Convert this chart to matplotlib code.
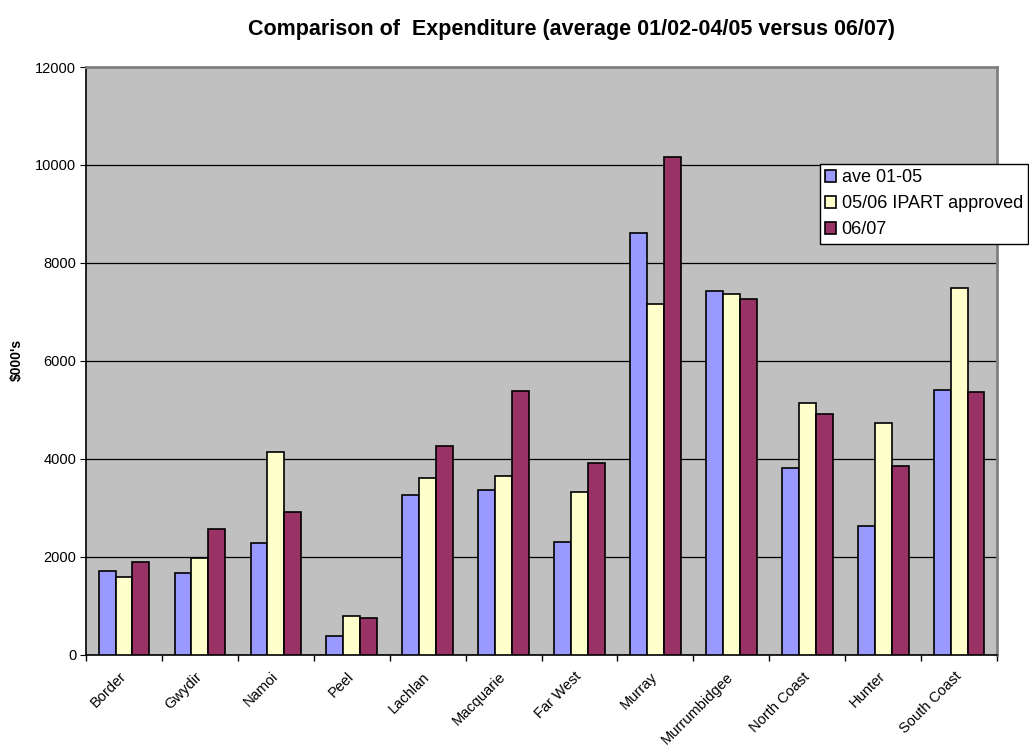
import numpy as np
import matplotlib.pyplot as plt
from matplotlib.ticker import FixedLocator

plt.rcParams['font.family'] = ['Liberation Sans', 'DejaVu Sans']

regions = ["Border", "Gwydir", "Namoi", "Peel", "Lachlan", "Macquarie", "Far West",
           "Murray", "Murrumbidgee", "North Coast", "Hunter", "South Coast"]
ave_01_05 = [1717, 1670, 2280, 390, 3265, 3360, 2306, 8610, 7435, 3810, 2640, 5414]
ipart_0506 = [1582, 1986, 4143, 794, 3618, 3653, 3327, 7169, 7361, 5136, 4728, 7490]
exp_0607 = [1899, 2571, 2918, 747, 4271, 5388, 3912, 10163, 7259, 4912, 3857, 5361]

series = [("ave 01-05", ave_01_05, "#9999FF"),
          ("05/06 IPART approved", ipart_0506, "#FFFFCC"),
          ("06/07", exp_0607, "#993366")]

fig = plt.figure(figsize=(10.29, 7.47), dpi=100)
ax = fig.add_axes([0.0836, 0.1232, 0.8854, 0.7871])
ax.set_facecolor("#C0C0C0")

x = np.arange(len(regions))
w = 1 / 4.5
for i, (name, vals, col) in enumerate(series):
    ax.bar(x + (i - 1) * w, vals, width=w, color=col, edgecolor="black",
           linewidth=1.2, label=name, zorder=3)

ax.set_xlim(-0.5, len(regions) - 0.5)
ax.set_ylim(0, 12000)
ax.set_yticks(range(0, 12001, 2000))
ax.yaxis.grid(True, color="black", linewidth=0.9, zorder=1)
ax.set_axisbelow(True)

ax.set_xticks(x)
ax.set_xticklabels(regions, rotation=45, ha="right", va="center",
                   rotation_mode="anchor", fontsize=10.5)
ax.tick_params(axis="x", which="major", length=0, pad=14)
ax.xaxis.set_minor_locator(FixedLocator(np.arange(-0.5, len(regions), 1)))
ax.tick_params(axis="x", which="minor", length=4, direction="out", width=1, color="black")
ax.tick_params(axis="y", labelsize=10.5, length=4, direction="out", pad=3)

for s in ("left", "bottom"):
    ax.spines[s].set_color("black")
    ax.spines[s].set_linewidth(1.2)
for s in ("top", "right"):
    ax.spines[s].set_color("#808080")
    ax.spines[s].set_linewidth(2)

fig.text(17 / 1029, 1 - 360 / 747, "\\$000's", fontsize=10, fontweight="bold",
         rotation=90, ha="center", va="center")
fig.suptitle("Comparison of  Expenditure (average 01/02-04/05 versus 06/07)",
             fontsize=15.5, fontweight="bold", x=0.555, y=0.975)

leg = ax.legend(loc="upper left", bbox_to_anchor=(820 / 1029, 1 - 164 / 747),
                bbox_transform=fig.transFigure, fontsize=13, frameon=True,
                fancybox=False, edgecolor="black", framealpha=1,
                handlelength=0.6, handleheight=0.6, handletextpad=0.3,
                borderpad=0.3, labelspacing=0.5, borderaxespad=0)
leg.get_frame().set_linewidth(1)
leg.set_clip_on(False)

fig.savefig("out.png", dpi=100)
